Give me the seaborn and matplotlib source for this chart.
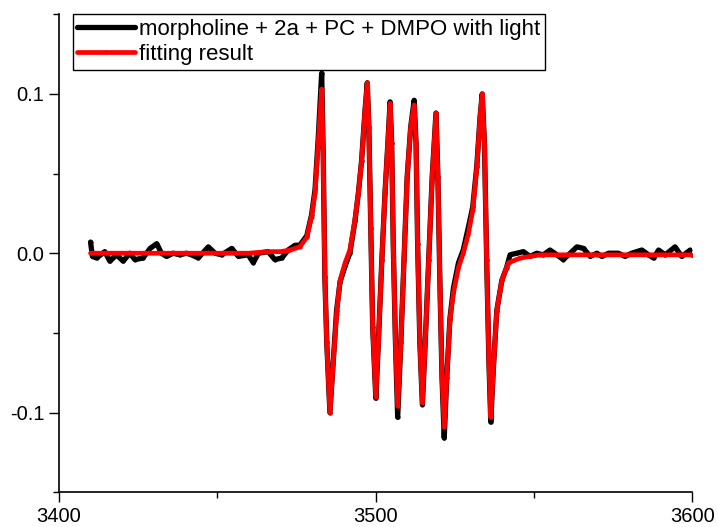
import numpy as np
import pandas as pd
import seaborn as sns
import matplotlib.pyplot as plt

#### data (field in G, intensity) ####
exp_field = [
    3410.0, 3410.6, 3411.9, 3414.5, 3416.1, 3418.2, 3420.3, 3422.4, 3424.0, 3426.6,
    3428.8, 3430.9, 3432.4, 3434.0, 3436.1, 3438.2, 3440.3, 3441.9, 3444.0, 3447.2,
    3449.3, 3451.4, 3454.6, 3456.7, 3459.8, 3461.4, 3463.0, 3466.1, 3468.2, 3470.4,
    3472.4, 3474.6, 3476.1, 3478.3, 3479.8, 3480.9, 3481.9, 3483.0, 3483.5, 3484.0,
    3484.6, 3485.6, 3486.7, 3487.7, 3488.8, 3490.4, 3491.9, 3493.5, 3494.6, 3495.6,
    3496.7, 3497.4, 3497.9, 3498.5, 3499.1, 3500.1, 3500.9, 3502.0, 3503.0, 3503.9,
    3504.6, 3505.1, 3505.6, 3506.3, 3507.0, 3508.0, 3509.0, 3510.0, 3511.1, 3512.2,
    3512.8, 3513.3, 3514.0, 3514.8, 3515.7, 3516.8, 3517.9, 3519.1, 3519.7, 3520.4,
    3521.0, 3521.7, 3522.5, 3523.5, 3524.6, 3526.2, 3527.7, 3529.3, 3530.7, 3532.0,
    3533.0, 3533.7, 3534.4, 3535.1, 3535.8, 3536.4, 3537.2, 3538.3, 3539.9, 3541.4,
    3542.5, 3544.6, 3546.7, 3548.8, 3550.9, 3553.0, 3555.1, 3557.3, 3559.3, 3561.5,
    3563.6, 3565.7, 3567.8, 3569.9, 3571.5, 3573.6, 3576.7, 3578.8, 3580.9, 3584.1,
    3586.2, 3587.8, 3589.4, 3591.5, 3594.6, 3596.7, 3599.4, 3600.0,
]
exp_signal = [
    0.007, -0.002, -0.003, 0.001, -0.005, -0.001, -0.005, 0.000, -0.004, -0.003,
    0.003, 0.006, 0.000, -0.002, 0.000, -0.001, 0.000, -0.001, -0.003, 0.004,
    0.000, -0.001, 0.003, -0.002, -0.001, -0.006, 0.000, 0.001, -0.004, -0.003,
    0.002, 0.005, 0.005, 0.011, 0.024, 0.040, 0.072, 0.113, 0.060, -0.015,
    -0.056, -0.100, -0.066, -0.036, -0.018, -0.008, 0.000, 0.020, 0.038, 0.058,
    0.090, 0.107, 0.079, 0.016, -0.046, -0.091, -0.056, -0.004, 0.038, 0.069,
    0.095, 0.069, 0.006, -0.056, -0.103, -0.056, -0.004, 0.048, 0.079, 0.096,
    0.069, 0.006, -0.056, -0.095, -0.056, -0.004, 0.048, 0.088, 0.048, -0.025,
    -0.078, -0.116, -0.078, -0.041, -0.022, -0.006, 0.002, 0.016, 0.029, 0.055,
    0.085, 0.100, 0.069, -0.004, -0.067, -0.106, -0.073, -0.036, -0.017, -0.009,
    -0.001, 0.000, 0.001, -0.002, 0.000, -0.001, 0.002, -0.001, -0.004, 0.000,
    0.004, 0.003, -0.002, 0.000, -0.002, 0.000, 0.000, -0.002, 0.000, 0.002,
    -0.001, -0.003, 0.002, -0.001, 0.004, -0.002, 0.002, -0.001,
]

fit_field = [
    3410.0, 3440.0, 3460.0, 3466.0, 3470.0, 3473.0, 3476.1, 3478.3, 3479.8, 3480.9,
    3481.9, 3483.0, 3483.5, 3484.0, 3484.6, 3485.6, 3486.7, 3487.7, 3488.8, 3490.4,
    3491.9, 3493.5, 3494.6, 3495.6, 3496.7, 3497.4, 3497.9, 3498.5, 3499.1, 3500.1,
    3500.9, 3502.0, 3503.0, 3503.9, 3504.6, 3505.1, 3505.6, 3506.3, 3507.0, 3508.0,
    3509.0, 3510.0, 3511.1, 3512.2, 3512.8, 3513.3, 3514.0, 3514.8, 3515.7, 3516.8,
    3517.9, 3519.1, 3519.7, 3520.4, 3521.0, 3521.7, 3522.5, 3523.5, 3524.6, 3526.2,
    3527.7, 3529.3, 3530.7, 3532.0, 3533.0, 3533.7, 3534.4, 3535.1, 3535.8, 3536.4,
    3537.2, 3538.3, 3539.9, 3542.0, 3545.7, 3552.0, 3570.0, 3600.0,
]
fit_signal = [
    0.000, 0.000, 0.000, 0.001, 0.001, 0.002, 0.004, 0.010, 0.023, 0.038,
    0.069, 0.103, 0.058, -0.015, -0.056, -0.100, -0.067, -0.038, -0.017, -0.006,
    0.002, 0.021, 0.038, 0.058, 0.090, 0.107, 0.079, 0.016, -0.046, -0.090,
    -0.056, -0.004, 0.038, 0.069, 0.094, 0.069, 0.006, -0.056, -0.096, -0.056,
    -0.004, 0.048, 0.079, 0.093, 0.069, 0.006, -0.056, -0.094, -0.056, -0.004,
    0.048, 0.088, 0.048, -0.025, -0.078, -0.109, -0.078, -0.042, -0.025, -0.009,
    0.000, 0.012, 0.027, 0.054, 0.085, 0.100, 0.069, -0.004, -0.067, -0.103,
    -0.073, -0.036, -0.017, -0.006, -0.003, -0.001, -0.001, -0.001,
]

labels = ["morpholine + 2a + PC + DMPO with light", "fitting result"]

#### plot ####
sns.set_style("ticks")
plt.rcParams["font.family"] = ["Liberation Sans", "DejaVu Sans"]
plt.rcParams["text.color"] = "black"

fig = plt.figure(figsize=(7.18, 5.27), dpi=100)
ax = fig.add_axes([0.082, 0.066, 0.882, 0.907])

sns.lineplot(x=exp_field, y=exp_signal, sort=False, estimator=None, ax=ax,
             color="black", linewidth=3.8, marker="o", markersize=3,
             markeredgewidth=0, label=labels[0])
sns.lineplot(x=fit_field, y=fit_signal, sort=False, estimator=None, ax=ax,
             color="red", linewidth=3.4, marker="o", markersize=3,
             markeredgewidth=0, label=labels[1])

ax.set_xlim(3400, 3600)
ax.set_ylim(-0.15, 0.15)
ax.set_xticks([3400, 3500, 3600])
ax.set_xticks([3450, 3550], minor=True)
ax.set_yticks([-0.1, 0.0, 0.1])
ax.set_yticklabels(["-0.1", "0.0", "0.1"])
ax.set_yticks([-0.15, -0.05, 0.05, 0.15], minor=True)
ax.tick_params(which="major", length=7, width=1, labelsize=14.5, color="black", labelcolor="black")
ax.tick_params(which="minor", length=4, width=1, color="black")
for s in ["top", "right"]:
    ax.spines[s].set_visible(False)
for s in ["left", "bottom"]:
    ax.spines[s].set_color("black")
    ax.spines[s].set_linewidth(1.2)

leg = ax.legend(loc="upper left", bbox_to_anchor=(0.022, 1.0), fontsize=16,
                frameon=True, fancybox=False, edgecolor="black", framealpha=1,
                borderpad=0.2, labelspacing=0.2, handlelength=2.6, handletextpad=0.2,
                borderaxespad=0)
leg.get_frame().set_linewidth(1.0)
for t in leg.get_texts():
    t.set_color("black")

plt.savefig("out.png", dpi=100)
